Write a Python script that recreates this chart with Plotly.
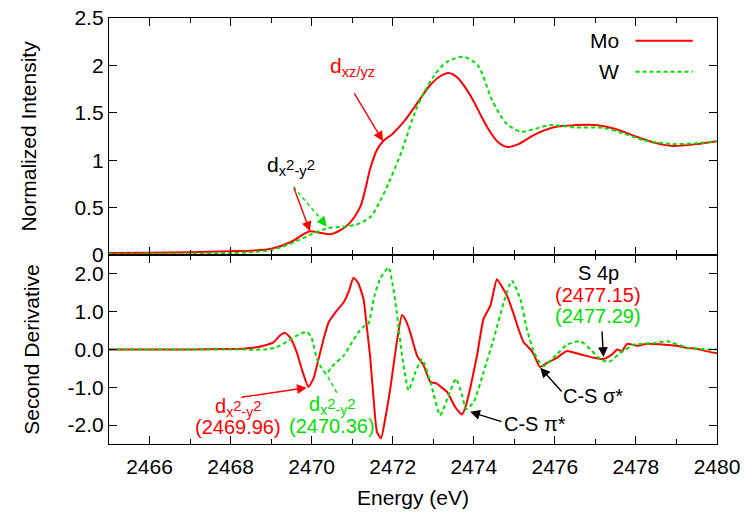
import plotly.graph_objects as go

# ---------------- data ----------------
# Top panel: normalized intensity
mo_top_e = [2465, 2466, 2467, 2468, 2468.5, 2469, 2469.5, 2469.8, 2469.96, 2470.2, 2470.45,
            2470.7, 2470.9, 2471.2, 2471.45, 2471.6, 2471.76, 2472.0, 2472.3, 2472.6, 2472.9,
            2473.15, 2473.38, 2473.6, 2473.8, 2474.0, 2474.2, 2474.4, 2474.6, 2474.83, 2475.1,
            2475.5, 2476.0, 2476.5, 2477.0, 2477.5, 2478.0, 2478.5, 2478.9, 2479.5, 2480]
mo_top_i = [0.02, 0.025, 0.03, 0.04, 0.045, 0.065, 0.14, 0.22, 0.25, 0.235, 0.218,
            0.26, 0.32, 0.51, 0.92, 1.10, 1.2, 1.28, 1.42, 1.6, 1.78,
            1.88, 1.92, 1.87, 1.76, 1.62, 1.45, 1.3, 1.19, 1.14, 1.17,
            1.27, 1.35, 1.37, 1.37, 1.33, 1.25, 1.18, 1.15, 1.17, 1.2]

w_top_e = [2465, 2467, 2468, 2468.5, 2469, 2469.3, 2469.7, 2470.0, 2470.37, 2470.8, 2471.1,
           2471.45, 2471.7, 2471.9, 2472.2, 2472.6, 2473.0, 2473.35, 2473.75, 2474.1, 2474.45,
           2474.8, 2475.16, 2475.5, 2475.9, 2476.5, 2477.2, 2477.7, 2478.2, 2478.9, 2479.5, 2480]
w_top_i = [0.01, 0.015, 0.02, 0.03, 0.05, 0.09, 0.16, 0.22, 0.28, 0.30, 0.32,
           0.40, 0.58, 0.76, 1.07, 1.56, 1.88, 2.04, 2.09, 2.0, 1.635,
           1.39, 1.30, 1.33, 1.37, 1.345, 1.34, 1.28, 1.21, 1.17, 1.18, 1.2]

# Bottom panel: second derivative
mo_bot_e = [2465.0, 2466.0, 2467.0, 2467.8, 2468.3, 2468.6, 2468.81, 2469.06, 2469.22, 2469.35,
            2469.48, 2469.63, 2469.78, 2469.92, 2470.05, 2470.17, 2470.3, 2470.42, 2470.6, 2470.79,
            2470.92, 2471.03, 2471.15, 2471.28, 2471.36, 2471.44, 2471.52, 2471.61, 2471.71, 2471.82,
            2471.94, 2472.1, 2472.23, 2472.33, 2472.43, 2472.6, 2472.76, 2472.93, 2473.09, 2473.2,
            2473.34, 2473.54, 2473.71, 2473.8, 2473.91, 2474.08, 2474.24, 2474.41, 2474.57, 2474.7,
            2474.82, 2474.98, 2475.1, 2475.23, 2475.4, 2475.48, 2475.63, 2475.81, 2476.05, 2476.3,
            2476.63, 2476.96, 2477.2, 2477.41, 2477.54, 2477.65, 2477.78, 2478.03, 2478.28, 2478.77,
            2479.0, 2479.26, 2479.5, 2479.76, 2480.0]
mo_bot_d = [0.0, 0.0, 0.0, 0.01, 0.02, 0.05, 0.1, 0.19, 0.37, 0.44,
            0.3, -0.07, -0.6, -0.99, -0.75, -0.25, 0.3, 0.72, 1.0, 1.25,
            1.55, 1.90, 1.75, 1.33, 0.6, -0.16, -1.2, -2.18, -2.35, -1.8,
            -1.03, 0.19, 0.91, 0.75, 0.46, -0.16, -0.42, -0.86, -0.9, -1.0,
            -1.12, -1.52, -1.72, -1.5, -1.03, -0.16, 0.81, 1.16, 1.86, 1.65,
            1.42, 0.95, 0.55, 0.19, 0.0, -0.13, -0.46, -0.35, -0.22, -0.04,
            -0.13, -0.22, -0.25, -0.13, 0.0, -0.05, 0.15, 0.1, 0.15, 0.12,
            0.1, 0.04, 0.02, -0.05, -0.1]

w_bot_e = [2465.0, 2466.0, 2467.0, 2468.0, 2468.83, 2469.1, 2469.3, 2469.6, 2469.88, 2470.0,
           2470.13, 2470.25, 2470.36, 2470.5, 2470.79, 2471.0, 2471.15, 2471.3, 2471.4, 2471.55,
           2471.7, 2471.9, 2472.0, 2472.1, 2472.23, 2472.39, 2472.56, 2472.72, 2472.93, 2473.17,
           2473.38, 2473.56, 2473.71, 2473.81, 2474.0, 2474.24, 2474.49, 2474.74, 2474.94, 2475.15,
           2475.31, 2475.48, 2475.6, 2475.72, 2476.05, 2476.3, 2476.63, 2476.88, 2477.12, 2477.33,
           2477.62, 2477.95, 2478.44, 2478.77, 2479.26, 2479.75, 2480.0]
w_bot_d = [0.0, 0.0, 0.0, 0.0, 0.0, 0.05, 0.15, 0.35, 0.47, 0.3,
           -0.25, -0.5, -0.65, -0.45, -0.16, 0.2, 0.45, 0.62, 0.68, 1.42,
           1.9, 2.17, 1.7, 0.98, -0.16, -1.08, -0.6, -0.25, -0.86, -1.74,
           -1.21, -0.77, -1.21, -1.58, -1.39, -0.6, 0.28, 1.25, 1.82, 1.33,
           0.54, -0.07, -0.3, -0.44, -0.13, 0.13, 0.22, 0.0, -0.26, -0.33,
           -0.09, 0.13, 0.17, 0.22, 0.05, 0.0, 0.0]

series_names = ["Mo", "W"]
top_ticks = [0, 0.5, 1, 1.5, 2, 2.5]
top_ticktext = ["0", "0.5", "1", "1.5", "2", "2.5"]
bot_ticks = [-2, -1, 0, 1, 2]
bot_ticktext = ["-2.0", "-1.0", "0.0", "1.0", "2.0"]

# ---------------- style ----------------
RED = "#ff0000"
GREEN = "#00e000"
FONT = "Liberation Sans, Arial, sans-serif"
FS = 21
AFS = 20
SPLIT = 189 / 426

fig = go.Figure()
fig.add_trace(go.Scatter(x=mo_top_e, y=mo_top_i, name=series_names[0], mode="lines",
                         line=dict(color=RED, width=2, shape="spline", smoothing=0.8),
                         xaxis="x", yaxis="y"))
fig.add_trace(go.Scatter(x=w_top_e, y=w_top_i, name=series_names[1], mode="lines",
                         line=dict(color=GREEN, width=2, dash="4px,3px", shape="spline", smoothing=0.8),
                         xaxis="x", yaxis="y"))
fig.add_trace(go.Scatter(x=mo_bot_e, y=mo_bot_d, name=series_names[0], mode="lines", showlegend=False,
                         line=dict(color=RED, width=2, shape="spline", smoothing=0.5),
                         xaxis="x2", yaxis="y2"))
fig.add_trace(go.Scatter(x=w_bot_e, y=w_bot_d, name=series_names[1], mode="lines", showlegend=False,
                         line=dict(color=GREEN, width=2, dash="4px,3px", shape="spline", smoothing=0.5),
                         xaxis="x2", yaxis="y2"))

axis_common = dict(showline=True, linecolor="black", linewidth=1.3, mirror="ticks",
                   ticks="inside", tickcolor="black", showgrid=False, zeroline=False,
                   automargin=False, ticklabeloverflow="allow",
                   tickfont=dict(family=FONT, size=FS, color="black"))

# the page body adds an 8px offset; figure size/margins compensate so the plot
# area sits at x 109..717, y 18..444 of the 751x517 view
fig.update_layout(
    template="none",
    width=735, height=501,
    margin=dict(l=101, r=26, t=10, b=65, autoexpand=False),
    paper_bgcolor="white", plot_bgcolor="white",
    showlegend=False,
    font=dict(family=FONT, size=FS, color="black"),
    xaxis=dict(domain=[0, 1], anchor="y", range=[2465, 2480], tick0=2466, dtick=2,
               ticklen=8, showticklabels=False,
               minor=dict(dtick=1, ticklen=5, ticks="inside", tickcolor="black"),
               **axis_common),
    xaxis2=dict(domain=[0, 1], anchor="y2", range=[2465, 2480], tick0=2466, dtick=2,
                ticklen=8, matches="x", ticklabelstandoff=4,
                minor=dict(dtick=1, ticklen=5, ticks="inside", tickcolor="black"),
                title=dict(text="Energy (eV)", font=dict(family=FONT, size=FS), standoff=15),
                **axis_common),
    yaxis=dict(domain=[SPLIT, 1], anchor="x", range=[0, 2.5], tickvals=top_ticks,
               ticktext=top_ticktext, ticklen=8,
               title=dict(text="Normalized Intensity", font=dict(family=FONT, size=FS), standoff=32),
               **axis_common),
    yaxis2=dict(domain=[0, SPLIT], anchor="x2", range=[-2.5, 2.5], tickvals=bot_ticks,
                ticktext=bot_ticktext, ticklen=8,
                title=dict(text="Second Derivative", font=dict(family=FONT, size=FS), standoff=22),
                **axis_common),
)

ann = []

def text(x, y, t, color="black", xref="x", yref="y", xanchor="center", size=AFS):
    ann.append(dict(x=x, y=y, xref=xref, yref=yref, text=t, showarrow=False,
                    xanchor=xanchor, yanchor="middle",
                    font=dict(family=FONT, size=size, color=color)))

def arrow(x0, y0, x1, y1, color, xref="x", yref="y", head=True):
    ann.append(dict(x=x1, y=y1, ax=x0, ay=y0, xref=xref, yref=yref, axref=xref, ayref=yref,
                    text="", showarrow=True, arrowhead=2 if head else 0, arrowsize=1.4,
                    arrowwidth=1.4, arrowcolor=color, standoff=0, startstandoff=0))

SUP2 = "<sup><span style='font-size:15px'>2</span></sup>"
DX = "d<sub>x" + SUP2 + "-y" + SUP2 + "</sub>"

# top panel
text(2471.0, 1.98, "d<sub>xz/yz</sub>", RED, size=21)
arrow(2471.03, 1.72, 2471.76, 1.2, RED)
text(2469.5, 0.94, DX, size=21)
arrow(2469.55, 0.72, 2469.96, 0.25, RED)
fig.add_shape(type="line", x0=2469.55, y0=0.72, x1=2470.3, y1=0.34, xref="x", yref="y",
              line=dict(color=GREEN, width=1.4, dash="4px,3px"))
arrow(2470.2, 0.39, 2470.37, 0.3, GREEN)

# bottom panel
text(2468.18, -1.54, DX, RED, "x2", "y2")
text(2468.18, -2.06, "(2469.96)", RED, "x2", "y2")
arrow(2468.23, -1.27, 2469.88, -1.01, RED, "x2", "y2")
text(2470.5, -1.49, DX, GREEN, "x2", "y2")
text(2470.5, -2.02, "(2470.36)", GREEN, "x2", "y2")
fig.add_shape(type="line", x0=2470.62, y0=-1.14, x1=2470.36, y1=-0.65, xref="x2", yref="y2",
              line=dict(color=GREEN, width=1.4, dash="4px,3px"))
text(2475.5, -1.98, "C-S π*", "black", "x2", "y2")
arrow(2474.72, -1.92, 2473.91, -1.65, "black", "x2", "y2")
text(2476.95, -1.23, "C-S σ*", "black", "x2", "y2")
arrow(2476.2, -1.15, 2475.64, -0.48, "black", "x2", "y2")
text(2477.07, 2.03, "S 4p", "black", "x2", "y2")
text(2477.07, 1.43, "(2477.15)", RED, "x2", "y2")
text(2477.07, 0.88, "(2477.29)", GREEN, "x2", "y2")
arrow(2477.16, 0.52, 2477.2, -0.2, "black", "x2", "y2")

# legend (drawn manually: label left of line sample)
leg_y = [(444 - 40.7) / 426, (444 - 71.7) / 426]
leg_colors = [RED, GREEN]
leg_dash = ["solid", "4px,3px"]
for name, yy, c, d in zip(series_names, leg_y, leg_colors, leg_dash):
    text(0.842, yy, name, "black", "paper", "paper", xanchor="right", size=21)
    fig.add_shape(type="line", x0=0.866, x1=0.96, y0=yy, y1=yy, xref="paper", yref="paper",
                  line=dict(color=c, width=2, dash=d))

fig.update_layout(annotations=ann)
fig.write_html("out.html")
